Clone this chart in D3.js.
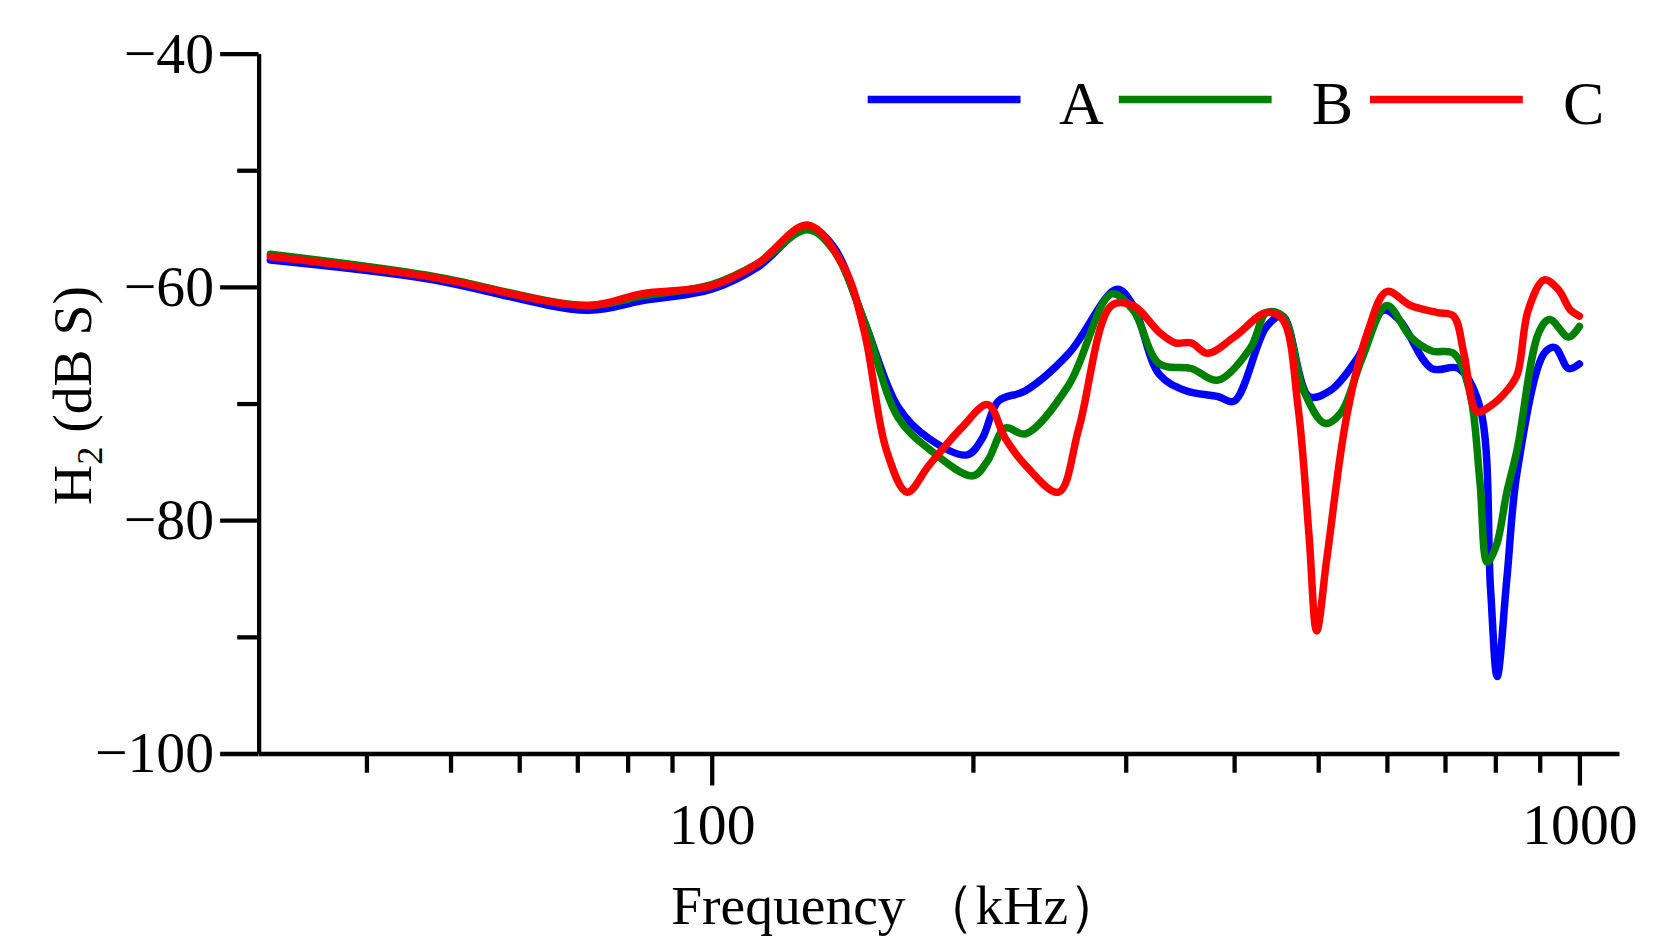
<!DOCTYPE html>
<html><head><meta charset="utf-8">
<script src="https://cdn.jsdelivr.net/npm/d3@7"></script>
<style>body{margin:0;background:#fff}</style></head>
<body><svg id="c" width="1667" height="947" viewBox="0 0 1560 886"></svg>
<script>
const seriesNames = ["A","B","C"];
const colors = ["#0000ff","#008000","#ff0000"];
const freqA = [31,47,72,83,100,113,129,138,150,164,178,197,205,214,230,258,293,306,328,352,383,400,436,455,488,516,555,595,621,676,726,768,790,804,825,848,911,937,972,1000];
const dbA   = [-57.7,-59.3,-62,-61.2,-60.2,-58.3,-54.9,-56.5,-63,-70.3,-73,-74.4,-73,-69.8,-68.9,-65.7,-60.2,-61.6,-67.5,-68.9,-69.4,-69.8,-63.4,-62.5,-69.4,-68.9,-66.1,-62,-62.9,-67,-67,-70.3,-85.9,-93.4,-85,-75.8,-65.7,-65.2,-67,-66.6];
const freqB = [31,47,72,83,100,113,129,138,150,164,178,200,208,218,230,258,289,306,328,357,383,418,436,455,481,509,531,562,600,639,676,716,747,768,783,802,825,848,898,924,972,1000];
const dbB   = [-57.2,-59,-61.6,-60.8,-59.8,-58,-55.1,-56.8,-63,-71.2,-73.9,-76.2,-74.9,-72.1,-72.6,-68.4,-60.6,-62,-66.6,-67,-68,-65.2,-62.2,-62.5,-68.9,-71.7,-70.8,-66.1,-61.6,-64.3,-65.5,-65.7,-68.9,-76.7,-83.6,-82.2,-77.6,-73.9,-63.9,-62.8,-64.3,-63.4];
const freqC = [31,47,72,83,100,113,129,142,150,159,168,178,194,208,218,230,251,265,289,306,328,342,357,373,400,436,455,474,488,498,512,539,570,600,639,686,716,736,762,790,825,848,873,911,945,977,1000];
const dbC   = [-57.4,-59.1,-61.6,-60.6,-59.9,-58,-54.7,-58.3,-63.9,-74,-77.6,-75.3,-72.1,-70.1,-73,-75.3,-77.6,-72.1,-61.6,-61.6,-63.9,-64.8,-64.8,-65.7,-64.3,-62.2,-62.8,-70.3,-81.3,-89.5,-83.1,-71.2,-63.9,-60.4,-61.6,-62.2,-62.5,-65.7,-70.7,-70.2,-68.9,-67.5,-62,-59.4,-60.2,-62,-62.5];
const yTicks = [-40,-60,-80,-100];
const xTicks = [100,1000];

const svg = d3.select("#c");
const font = "'Liberation Serif','DejaVu Serif',serif";
const x = d3.scaleLog().domain([100,1000]).range([666,1478]);
const xMin = x.invert(242), xMax = x.invert(1515);
x.domain([xMin,xMax]).range([242,1515]);
const y = d3.scaleLinear().domain([-100,-40]).range([705,50]);

// lines
const line = d3.line().x(d=>x(d[0])).y(d=>y(d[1])).curve(d3.curveCatmullRom.alpha(0.5));
[[freqA,dbA],[freqB,dbB],[freqC,dbC]].forEach((s,i)=>{
  svg.append("path").datum(s[0].map((f,j)=>[f,s[1][j]]))
    .attr("d",line).attr("fill","none").attr("stroke",colors[i])
    .attr("stroke-width",7).attr("stroke-linejoin","round").attr("stroke-linecap","round");
});

// axes
const minor=[];
for(let f=40;f<100;f+=10) minor.push(f);
for(let f=200;f<1000;f+=100) minor.push(f);
const xa = svg.append("g").attr("transform","translate(0,705)")
  .call(d3.axisBottom(x).tickValues(xTicks).tickSize(30).tickSizeOuter(0).tickFormat(d3.format("d")));
svg.append("g").attr("transform","translate(0,705)")
  .call(d3.axisBottom(x).tickValues(minor).tickSize(18).tickSizeOuter(0).tickFormat(""))
  .select(".domain").remove();
const ya = svg.append("g").attr("transform","translate(242,0)")
  .call(d3.axisLeft(y).tickValues(yTicks).tickSize(36).tickSizeOuter(0).tickFormat(d3.format("d")));
svg.append("g").attr("transform","translate(242,0)")
  .call(d3.axisLeft(y).tickValues([-50,-70,-90]).tickSize(20).tickFormat(""))
  .select(".domain").remove();
svg.selectAll(".domain").attr("stroke","#000").attr("stroke-width",4);
svg.selectAll(".tick line").attr("stroke","#000").attr("stroke-width",4);
xa.selectAll("text").attr("font-family",font).attr("font-size",54).attr("fill","#000").attr("dy","0.95em");
ya.selectAll("text").attr("font-family",font).attr("font-size",54).attr("fill","#000").attr("dx","-0.05em");

// axis titles
svg.append("text").attr("x",840).attr("y",865).attr("text-anchor","middle")
  .attr("font-family",font).attr("font-size",52).text("Frequency （kHz）");
const yt = svg.append("text").attr("transform","translate(85,370) rotate(-90)")
  .attr("text-anchor","middle").attr("font-family",font).attr("font-size",52);
yt.append("tspan").text("H");
yt.append("tspan").attr("font-size",34).attr("dy",10).text("2");
yt.append("tspan").attr("dy",-10).text(" (dB S)");

// legend
const lx=[812,1047,1282];
seriesNames.forEach((n,i)=>{
  svg.append("line").attr("x1",lx[i]).attr("x2",lx[i]+143).attr("y1",93).attr("y2",93)
    .attr("stroke",colors[i]).attr("stroke-width",7);
  svg.append("text").attr("x",lx[i]+200).attr("y",116).attr("text-anchor","middle")
    .attr("font-family",font).attr("font-size",58).text(n);
});
</script></body></html>
